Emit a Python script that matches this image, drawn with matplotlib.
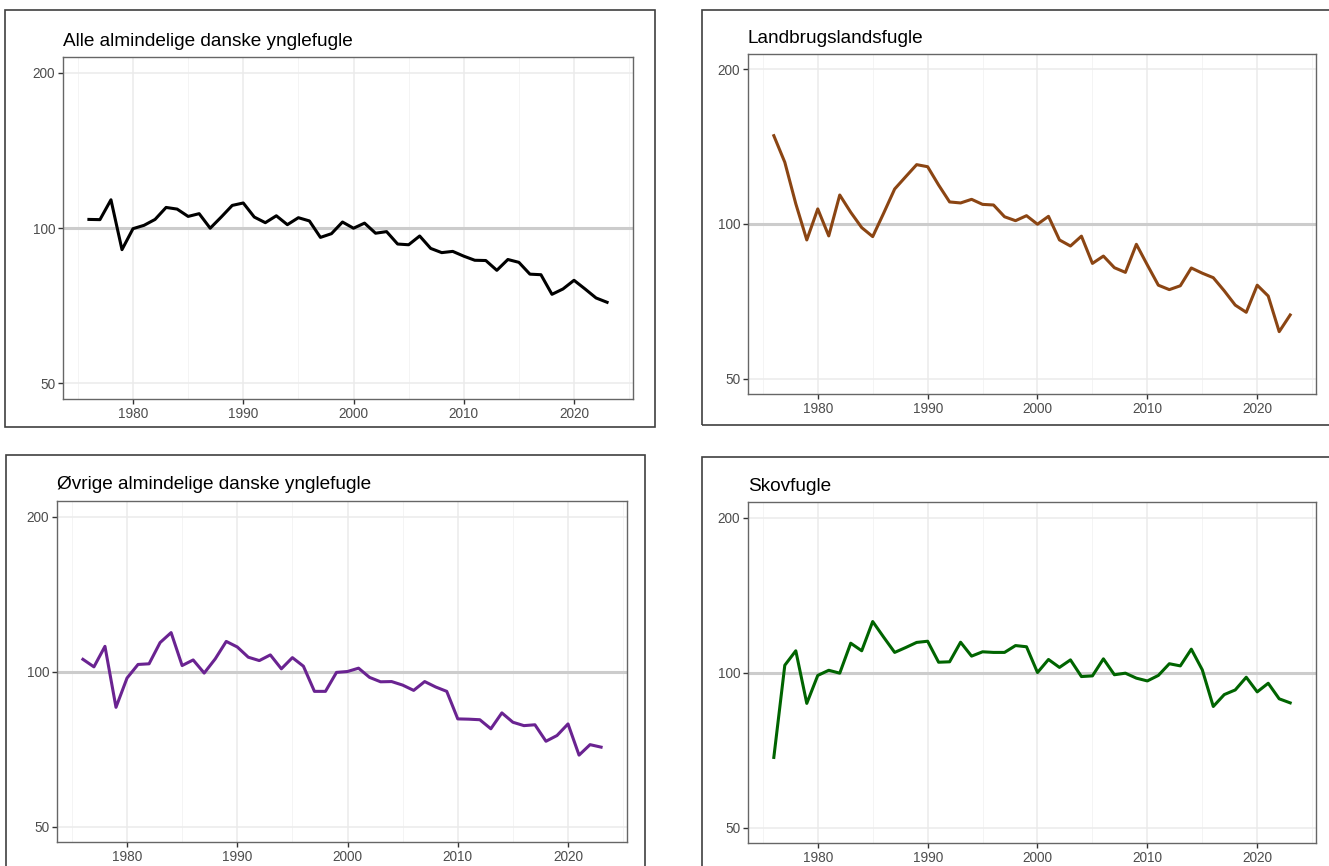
import numpy as np
import matplotlib
matplotlib.use("Agg")
import matplotlib.pyplot as plt
from matplotlib.patches import Rectangle
from matplotlib.ticker import FixedLocator, NullLocator, NullFormatter

plt.rcParams['font.family'] = ['Liberation Sans', 'DejaVu Sans']

years = list(range(1976, 2024))

alle = [103.9, 103.8, 113.4, 90.8, 99.7, 101.2, 103.9, 109.6, 108.8, 105.3,
        106.6, 99.9, 105.0, 110.6, 111.8, 105.0, 102.4, 105.6, 101.5, 104.7,
        103.2, 95.9, 97.5, 102.7, 99.9, 102.2, 97.7, 98.4, 93.1, 92.8,
        96.5, 91.3, 89.6, 90.1, 88.2, 86.6, 86.5, 82.8, 86.9, 85.8,
        81.4, 81.2, 74.4, 76.2, 79.2, 76.2, 73.2, 71.8]

landbrug = [148.6, 131.9, 109.5, 93.1, 107.0, 94.8, 113.9, 105.4, 98.4, 94.5,
            105.0, 117.0, 123.6, 130.5, 129.3, 119.1, 110.4, 109.9, 111.7, 109.2,
            108.9, 103.3, 101.5, 103.8, 99.9, 103.5, 93.1, 90.6, 94.7, 83.8,
            86.6, 82.2, 80.5, 91.3, 83.2, 76.0, 74.5, 75.8, 82.1, 80.2,
            78.6, 74.1, 69.5, 67.3, 76.0, 72.4, 61.7, 66.5]

oevrige = [105.6, 102.1, 111.9, 85.2, 97.1, 103.2, 103.5, 113.8, 119.0, 102.7,
           105.3, 99.3, 105.8, 114.4, 111.6, 106.6, 105.0, 107.7, 101.2, 106.4,
           102.4, 91.5, 91.5, 99.6, 100.0, 101.5, 97.4, 95.5, 95.6, 94.1,
           91.9, 95.6, 93.3, 91.5, 80.9, 80.8, 80.6, 77.4, 83.1, 79.7,
           78.5, 78.8, 73.2, 75.1, 79.1, 68.8, 72.1, 71.3]

skov = [68.4, 103.3, 110.2, 87.1, 98.7, 101.0, 99.7, 114.0, 110.2, 125.6,
        117.1, 109.4, 111.8, 114.4, 115.0, 104.7, 104.9, 114.5, 107.6, 109.7,
        109.4, 109.4, 112.8, 112.2, 100.0, 106.0, 102.3, 105.8, 98.2, 98.5,
        106.3, 99.0, 99.7, 97.5, 96.3, 98.7, 104.0, 103.0, 111.0, 101.2,
        85.9, 90.6, 92.5, 97.9, 91.7, 95.3, 88.9, 87.3]

titles = ["Alle almindelige danske ynglefugle", "Landbrugslandsfugle",
          "Øvrige almindelige danske ynglefugle", "Skovfugle"]
colors = ["#000000", "#8B4513", "#6A2391", "#006400"]
series = [alle, landbrug, oevrige, skov]

y_breaks = [50, 100, 200]
x_breaks = [1980, 1990, 2000, 2010, 2020]
x_minor = [1975, 1985, 1995, 2005, 2015, 2025]

W, H = 1329, 866
fig = plt.figure(figsize=(W / 100, H / 100), dpi=100)

def px_box(l, t, r, b):
    return [l / W, 1 - b / H, (r - l) / W, (b - t) / H]

# plot areas (pixel boxes), outer frames, title positions
axes_px = [(63, 57, 633, 399), (748, 54, 1316, 394), (57, 501, 627, 842), (748, 502, 1316, 843)]
frames_px = [(5, 10, 655, 427), (702, 10, 1340, 425), (6, 455, 645, 880), (702, 457, 1340, 880)]
title_px = [(63, 46), (748, 43), (57, 489), (748, 491)]

for i in range(4):
    l, t, r, b = frames_px[i]
    fig.patches.append(Rectangle((l / W, 1 - b / H), (r - l) / W, (b - t) / H,
                                 transform=fig.transFigure, fill=False,
                                 edgecolor='#404040', linewidth=1.2))

    ax = fig.add_axes(px_box(*axes_px[i]))
    ax.set_yscale('log')
    lo, hi = np.log2(50), np.log2(200)
    ax.set_ylim(2 ** (lo - 0.1), 2 ** (hi + 0.1))
    ax.set_xlim(1976 - 0.05 * 47, 2023 + 0.05 * 47)

    ax.yaxis.set_major_locator(FixedLocator(y_breaks))
    ax.yaxis.set_minor_locator(NullLocator())
    ax.yaxis.set_minor_formatter(NullFormatter())
    ax.set_yticklabels([str(v) for v in y_breaks])
    ax.xaxis.set_major_locator(FixedLocator(x_breaks))
    ax.xaxis.set_minor_locator(FixedLocator(x_minor))

    ax.grid(True, which='major', color='#EBEBEB', linewidth=1.1)
    ax.grid(True, which='minor', axis='x', color='#F2F2F2', linewidth=0.6)
    ax.set_axisbelow(True)

    ax.axhline(100, color='#CCCCCC', linewidth=2.2, zorder=1.5)
    ax.plot(years, series[i], color=colors[i], linewidth=2.2, zorder=3)

    ax.tick_params(axis='both', which='major', labelsize=9.8, labelcolor='#4D4D4D',
                   color='#333333', length=3.5, width=1.0, pad=2)
    ax.tick_params(axis='x', which='minor', length=0)
    for s in ax.spines.values():
        s.set_color('#666666')
        s.set_linewidth(1.0)

    tx, ty = title_px[i]
    fig.text(tx / W, 1 - ty / H, titles[i], fontsize=13.7, color='black',
             ha='left', va='baseline')

fig.savefig("out.png", dpi=100, facecolor='white')
